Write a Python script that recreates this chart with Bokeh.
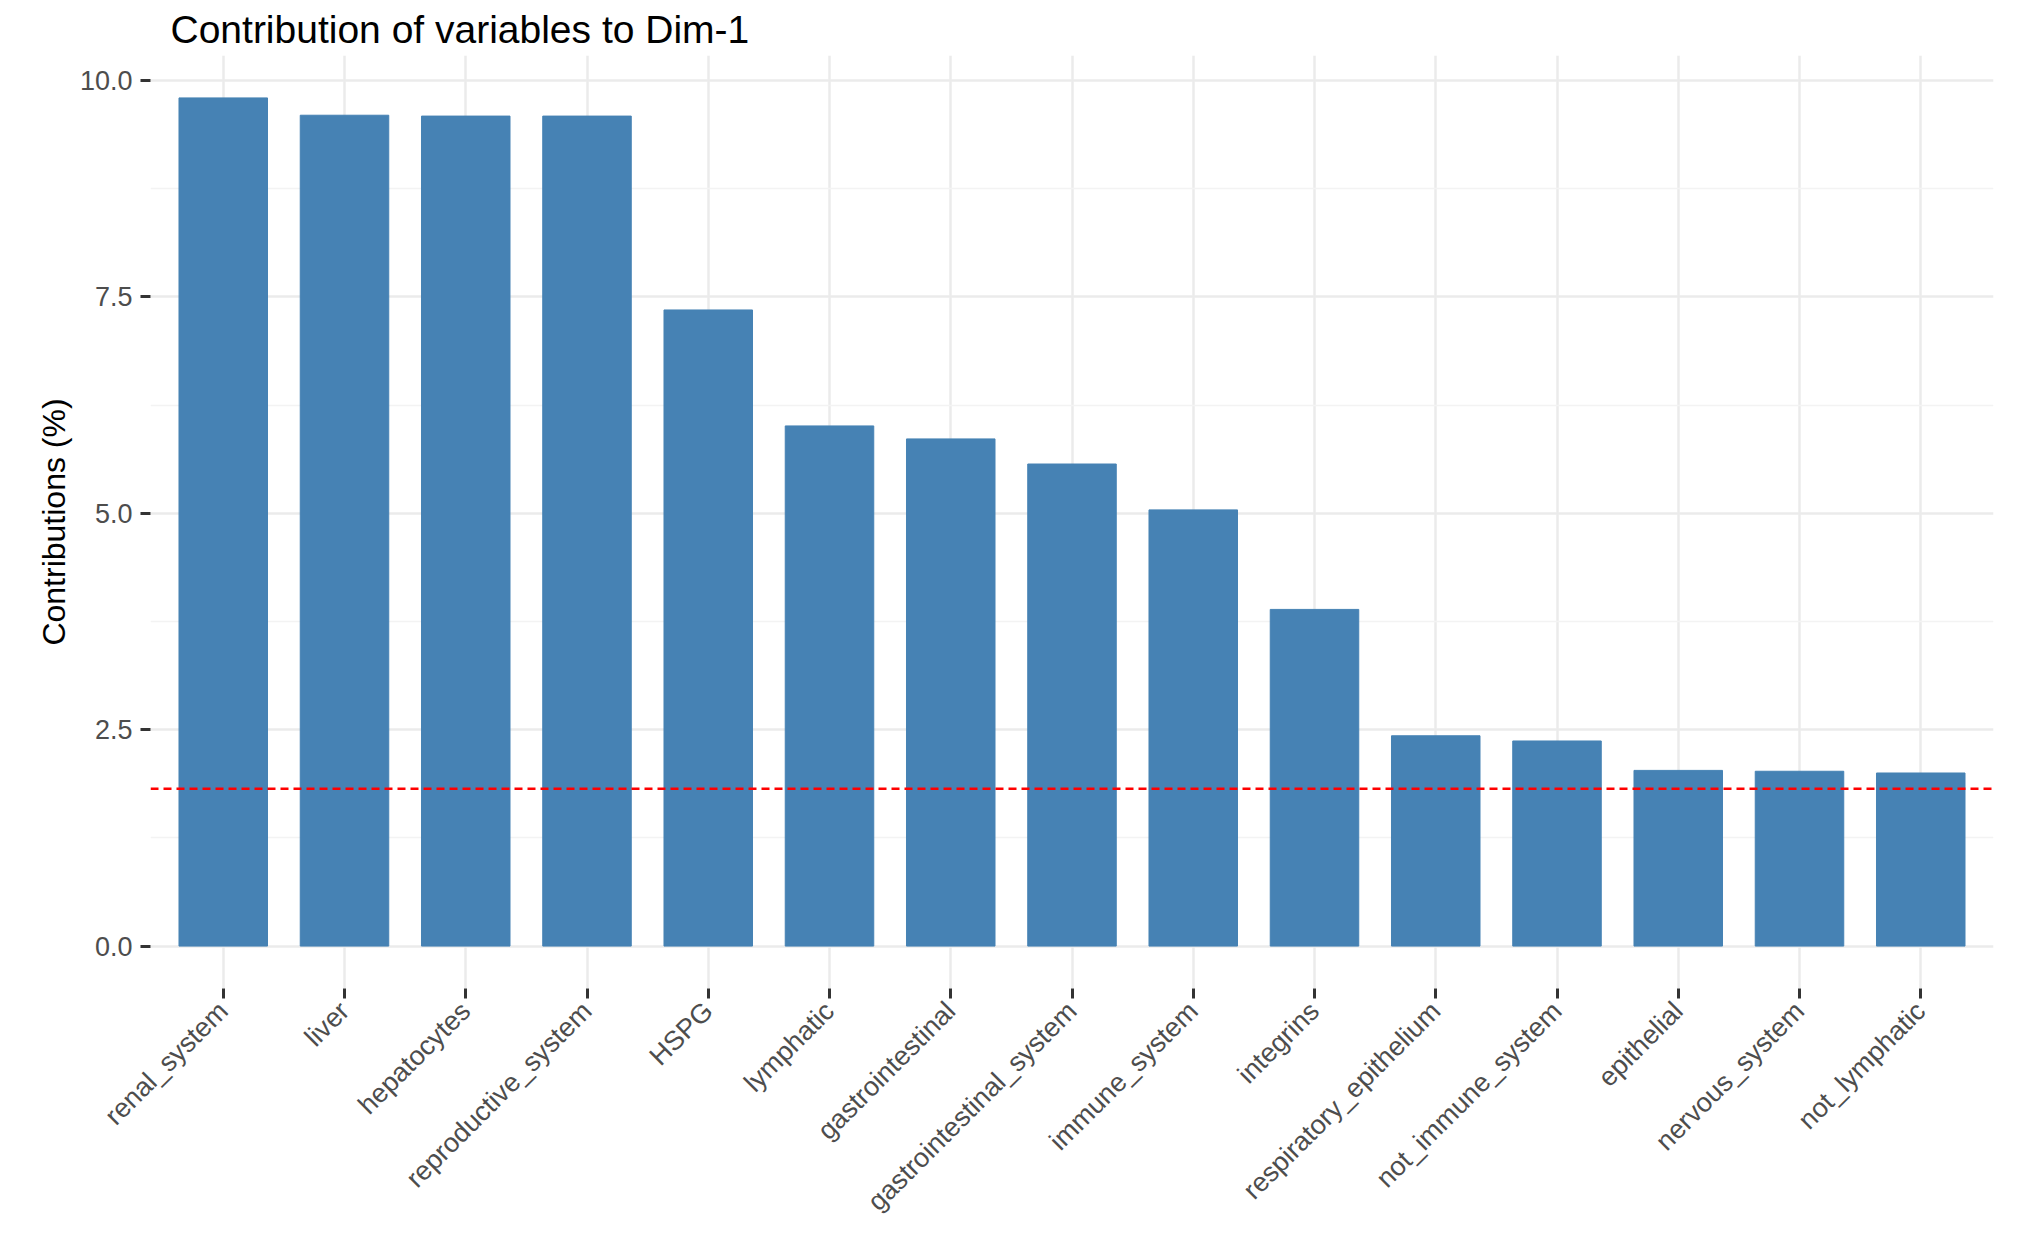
from bokeh.plotting import figure
from bokeh.models import FixedTicker, Span, Range1d
from bokeh.embed import file_html
from bokeh.resources import INLINE
import math

variables = ["renal_system", "liver", "hepatocytes", "reproductive_system", "HSPG",
             "lymphatic", "gastrointestinal", "gastrointestinal_system", "immune_system",
             "integrins", "respiratory_epithelium", "not_immune_system", "epithelial",
             "nervous_system", "not_lymphatic"]
contrib = [9.80, 9.60, 9.59, 9.59, 7.35, 6.01, 5.86, 5.57, 5.04, 3.89, 2.43, 2.37, 2.03, 2.02, 2.00]
expected = 100 / 55
y_ticks = [0.0, 2.5, 5.0, 7.5, 10.0]

xs = list(range(1, len(variables) + 1))

p = figure(width=2005, height=1230, output_backend="svg", toolbar_location=None,
           x_range=Range1d(0.4, 15.6), y_range=Range1d(-0.49, 10.29),
           title="Contribution of variables to Dim-1")
p.min_border_left = 150
p.min_border_right = 12
p.min_border_top = 20
p.min_border_bottom = 20
p.outline_line_color = None
p.background_fill_color = "white"

p.title.text_font = "Liberation Sans"
p.title.text_font_size = "39px"
p.title.text_font_style = "normal"
p.title.text_color = "black"
p.title.offset = 20

p.vbar(x=xs, top=contrib, width=0.73, bottom=0, color="steelblue")
p.add_layout(Span(location=expected, dimension="width", line_color="red",
                  line_dash="8 5", line_width=2.5))

p.xaxis.ticker = FixedTicker(ticks=xs)
p.xaxis.major_label_overrides = {x: v for x, v in zip(xs, variables)}
p.xaxis.major_label_orientation = math.pi / 4
p.yaxis.ticker = FixedTicker(ticks=y_ticks, minor_ticks=[1.25, 3.75, 6.25, 8.75])
p.yaxis.major_label_overrides = {t: f"{t:.1f}" for t in y_ticks}
p.yaxis.axis_label = "Contributions (%)"
p.yaxis.axis_label_text_font_size = "32px"
p.yaxis.axis_label_text_font_style = "normal"
p.yaxis.axis_label_text_color = "black"
p.yaxis.axis_label_text_font = "Liberation Sans"

for ax in (p.xaxis, p.yaxis):
    ax.axis_line_color = None
    ax.major_tick_line_color = "#333333"
    ax.major_tick_line_width = 3
    ax.major_tick_in = 0
    ax.major_tick_out = 10
    ax.minor_tick_line_color = None
    ax.major_label_text_font = "Liberation Sans"
    ax.major_label_text_font_size = "27px"
    ax.major_label_text_color = "#4d4d4d"
    ax.major_label_standoff = 8

p.xgrid.grid_line_color = "#ebebeb"
p.xgrid.grid_line_width = 2.5
p.ygrid.grid_line_color = "#ebebeb"
p.ygrid.grid_line_width = 2.5
p.ygrid.minor_grid_line_color = "#f3f3f3"
p.ygrid.minor_grid_line_width = 1.3

open("out.html", "w").write(file_html(p, INLINE))
